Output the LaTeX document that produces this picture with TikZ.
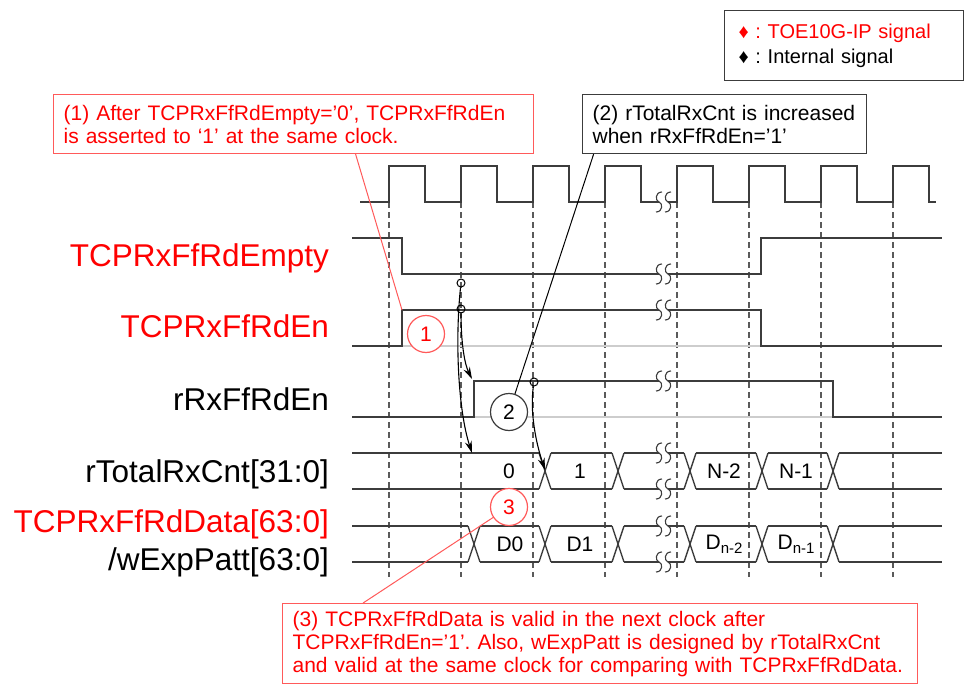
\documentclass[tikz,border=0pt]{standalone}
\usepackage{fontspec}
\setmainfont{Liberation Sans}
\usetikzlibrary{arrows.meta,positioning}

\definecolor{ipred}{RGB}{255,0,0}
\definecolor{boxred}{RGB}{255,90,90}
\definecolor{waveline}{RGB}{60,60,60}
\definecolor{guideline}{RGB}{90,90,90}
\definecolor{idleline}{RGB}{205,205,205}

\newcommand{\lowsub}[1]{\raisebox{-4pt}{\fontsize{15}{15}\selectfont #1}}

\tikzset{
  wave/.style={line width=1.4pt, waveline},
  idle/.style={line width=1.4pt, idleline},
  guide/.style={line width=1.2pt, guideline, dash pattern=on 6pt off 4pt},
  signame/.style={anchor=base east, inner sep=0pt, font=\fontsize{31.5}{33}\selectfont},
  busval/.style={inner sep=0pt, font=\fontsize{21}{23}\selectfont},
  notebox/.style={draw, line width=1.2pt, anchor=north west, align=left,
    font=\fontsize{21}{23}\selectfont, inner xsep=10pt, inner ysep=0pt},
  numcirc/.style={circle, draw, fill=white, line width=1.2pt, minimum size=37pt, inner sep=0pt,
    font=\fontsize{21}{23}\selectfont},
  tap/.style={circle, draw, line width=1pt, minimum size=8pt, inner sep=0pt},
  cause/.style={line width=1.1pt, -{Stealth[length=12pt,width=7pt]}},
  pointer/.style={line width=1pt},
  brk/.pic={
    \fill[white] (-4,-9) rectangle (5,9);
    \draw[wave,line width=1.1pt] (-1,-10) .. controls (-8,-10) and (-8,-1) .. (-4,0)
      .. controls (0,1) and (0,10) .. (-7,10);
    \draw[wave,line width=1.1pt] (8,-10) .. controls (1,-10) and (1,-1) .. (5,0)
      .. controls (9,1) and (9,10) .. (2,10);
  }
}

\frenchspacing

\begin{document}
\begin{tikzpicture}[x=1pt,y=-1pt,line cap=butt,line join=miter]
  \useasboundingbox[fill=white] (0,0) rectangle (965,687);

  %-------------------------
  % Guide lines on the rising edges
  %-------------------------
  \foreach \k in {0,...,7}
    \draw[guide] (389+72*\k,202) -- (389+72*\k,577);

  %-------------------------
  % Clock
  %-------------------------
  \draw[wave] (360,202)
    \foreach \k in {0,...,7} {
      -- (389+72*\k,202) -- (389+72*\k,166) -- (425+72*\k,166) -- (425+72*\k,202)
    } -- (936,202);

  %-------------------------
  % TCPRxFfRdEmpty / TCPRxFfRdEn / rRxFfRdEn
  %-------------------------
  \draw[wave] (352,238) -- (402,238) -- (402,274) -- (761,274) -- (761,238) -- (942,238);

  \draw[idle] (402,346) -- (761,346);
  \draw[wave] (352,346) -- (402,346) -- (402,310) -- (761,310) -- (761,346) -- (942,346);

  \draw[idle] (474,417) -- (833,417);
  \draw[wave] (352,417) -- (474,417) -- (474,381) -- (833,381) -- (833,417) -- (942,417);

  %-------------------------
  % Buses
  %-------------------------
  % rTotalRxCnt[31:0]
  \foreach \a/\b in {352/539,551/612,624/684,696/756,768/827,839/942}
    \draw[wave] (\a,453) -- (\b,453) (\a,489) -- (\b,489);
  \foreach \t in {545,618,690,762,833}
    \draw[wave] (\t-6,453) -- (\t+6,489) (\t-6,489) -- (\t+6,453);

  % TCPRxFfRdData[63:0] / wExpPatt[63:0]
  \foreach \a/\b in {352/468,480/539,551/612,624/684,696/756,768/827,839/942}
    \draw[wave] (\a,526) -- (\b,526) (\a,562) -- (\b,562);
  \foreach \t in {474,545,618,690,762,833}
    \draw[wave] (\t-6,526) -- (\t+6,562) (\t-6,562) -- (\t+6,526);

  % breaks
  \foreach \y in {202,274,310,381,453,489,526,562}
    \pic at (663,\y) {brk};

  %-------------------------
  % Bus values
  %-------------------------
  \node[busval] (cnt0) at (509,471) {0};
  \node[busval] (cnt1) at (580,471) {1};
  \node[busval] (cnt2) at (724,471) {N-2};
  \node[busval] (cnt3) at (796,471) {N-1};

  \node[busval] (dat0) at (510,544) {D0};
  \node[busval] (dat1) at (580,544) {D1};
  \node[busval] (dat2) at (724,544) {D\lowsub{n-2}};
  \node[busval] (dat3) at (796,544) {D\lowsub{n-1}};

  %-------------------------
  % Signal names
  %-------------------------
  \node[signame, text=ipred] (lbl-empty) at (329,266) {TCPRxFfRdEmpty};
  \node[signame, text=ipred] (lbl-en)    at (329,337) {TCPRxFfRdEn};
  \node[signame]             (lbl-rden)  at (329,410) {rRxFfRdEn};
  \node[signame]             (lbl-cnt)   at (329,482) {rTotalRxCnt[31:0]};
  \node[signame, text=ipred] (lbl-data)  at (329,532) {TCPRxFfRdData[63:0]};
  \node[signame]             (lbl-patt)  at (329,570) {/wExpPatt[63:0]};

  %-------------------------
  % Cause arrows
  %-------------------------
  \node[tap] (tap1) at (461,283) {};
  \node[tap] (tap2) at (461,309) {};
  \node[tap] (tap3) at (534,382) {};
  \coordinate (cnt-in)  at (472,453);
  \coordinate (rden-in) at (472,379);
  \coordinate (one-in)  at (545,470);

  \draw[cause] (tap1) .. controls (455,340) and (458,410) .. (cnt-in);
  \draw[cause] (tap2) .. controls (461,345) and (465,365) .. (rden-in);
  \draw[cause] (tap3) .. controls (530,410) and (535,440) .. (one-in);

  %-------------------------
  % Numbered circles
  %-------------------------
  \node[numcirc, draw=boxred, text=ipred] (c1) at (426,334) {1};
  \node[numcirc, draw=waveline, text=black] (c2) at (509,412) {2};
  \node[numcirc, draw=boxred, text=ipred] (c3) at (509,507) {3};

  %-------------------------
  % Notes
  %-------------------------
  \node[notebox, draw=boxred, text=ipred, text width=460pt, minimum height=59pt] (note1) at (53,94)
    {(1) After TCPRxFfRdEmpty=’0’, TCPRxFfRdEn\\is asserted to ‘1’ at the same clock.};
  \node[notebox, draw=waveline, text=black, text width=264pt, minimum height=59pt] (note2) at (582,94)
    {(2) rTotalRxCnt is increased\\when rRxFfRdEn=’1’};
  \node[notebox, draw=boxred, text=ipred, text width=615pt, minimum height=80pt] (note3) at (282,603)
    {(3) TCPRxFfRdData is valid in the next clock after\\TCPRxFfRdEn=’1’. Also, wExpPatt is designed by rTotalRxCnt\\and valid at the same clock for comparing with TCPRxFfRdData.};
  \node[notebox, draw=waveline, text=black, text width=211pt, minimum height=70pt, inner xsep=14pt,
        font=\fontsize{20}{25}\selectfont] (legend) at (724,10)
    {\textcolor{ipred}{♦ : TOE10G-IP signal}\\♦ : Internal signal};

  \coordinate (en-rise) at (402,310);
  \draw[pointer, boxred] ([xshift=62pt]note1.south) -- (en-rise);
  \draw[pointer] (c2) -- ([xshift=-131pt]note2.south);
  \draw[pointer, boxred] (c3) -- ([xshift=-237pt]note3.north);

\end{tikzpicture}
\end{document}
